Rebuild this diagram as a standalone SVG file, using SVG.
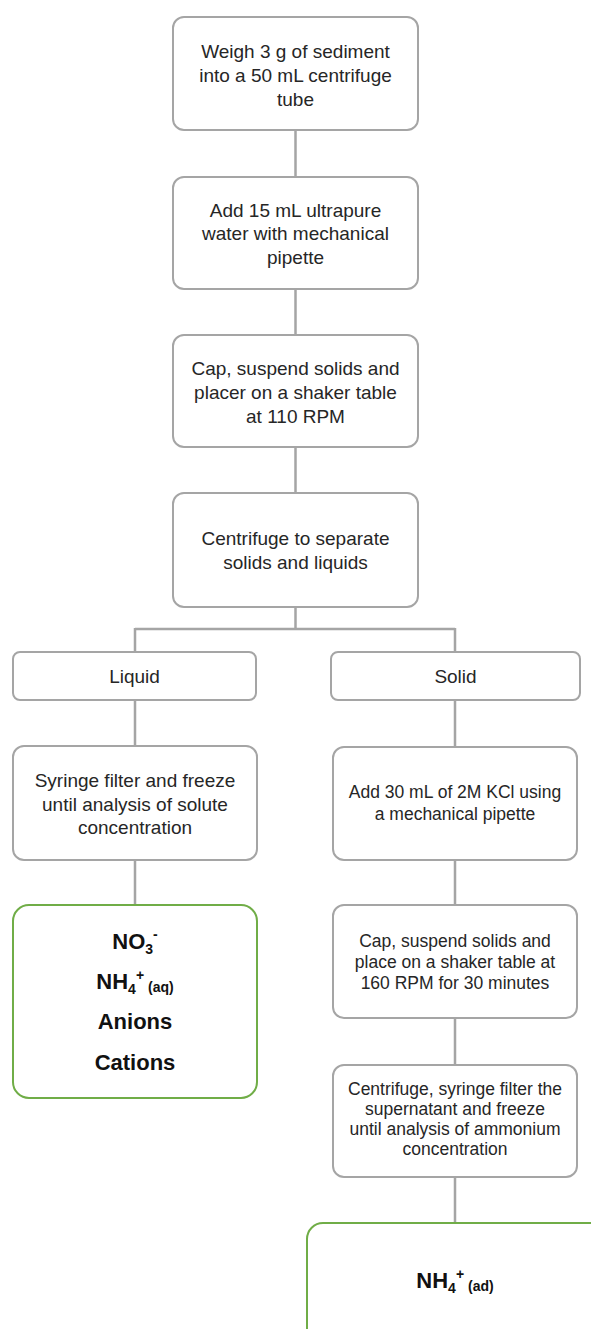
<svg xmlns="http://www.w3.org/2000/svg" width="591" height="1329" viewBox="0 0 591 1329">
  <style>
    .box { fill: #ffffff; stroke: #a5a5a5; stroke-width: 2; }
    .res { fill: #ffffff; stroke: #70ad47; stroke-width: 2; }
    .lbl { font-family: "Liberation Sans", Arial, sans-serif; font-size: 19px; fill: #262626; text-anchor: middle; }
    .sm { font-size: 17.5px; }
    .big { font-family: "Liberation Sans", Arial, sans-serif; font-size: 22px; font-weight: bold; fill: #111111; text-anchor: middle; }
    .link { fill: none; stroke: #a5a5a5; stroke-width: 2.5; }
  </style>

  <!-- connectors -->
  <g id="connectors">
    <path class="link" d="M295.5 130 V177 M295.5 289 V335 M295.5 447 V493 M295.5 607 V629"/>
    <path class="link" d="M135 629 H455 M135 628 V652 M455 628 V652"/>
    <path class="link" d="M135 700 V746 M135 860 V905"/>
    <path class="link" d="M455 700 V747 M455 860 V905 M455 1018 V1065 M455 1177 V1223"/>
  </g>

  <!-- main sequence -->
  <g id="weigh">
    <rect class="box" x="173" y="17" width="245" height="113" rx="11"/>
    <text class="lbl" x="295.5" y="58">Weigh 3 g of sediment</text>
    <text class="lbl" x="295.5" y="82">into a 50 mL centrifuge</text>
    <text class="lbl" x="295.5" y="106">tube</text>
  </g>
  <g id="add-water">
    <rect class="box" x="173" y="177" width="245" height="112" rx="11"/>
    <text class="lbl" x="295.5" y="217">Add 15 mL ultrapure</text>
    <text class="lbl" x="295.5" y="240">water with mechanical</text>
    <text class="lbl" x="295.5" y="264">pipette</text>
  </g>
  <g id="shake-110">
    <rect class="box" x="173" y="335" width="245" height="112" rx="11"/>
    <text class="lbl" x="295.5" y="375">Cap, suspend solids and</text>
    <text class="lbl" x="295.5" y="399">placer on a shaker table</text>
    <text class="lbl" x="295.5" y="423">at 110 RPM</text>
  </g>
  <g id="centrifuge">
    <rect class="box" x="173" y="493" width="245" height="114" rx="11"/>
    <text class="lbl" x="295.5" y="545">Centrifuge to separate</text>
    <text class="lbl" x="295.5" y="569">solids and liquids</text>
  </g>

  <!-- liquid branch -->
  <g id="liquid">
    <rect class="box" x="13" y="652" width="243" height="48" rx="7"/>
    <text class="lbl" x="134.5" y="683">Liquid</text>
  </g>
  <g id="filter-freeze">
    <rect class="box" x="13" y="746" width="244" height="114" rx="11"/>
    <text class="lbl" x="135" y="787">Syringe filter and freeze</text>
    <text class="lbl" x="135" y="811">until analysis of solute</text>
    <text class="lbl" x="135" y="834">concentration</text>
  </g>
  <g id="solutes">
    <rect class="res" x="13" y="905" width="244" height="193" rx="16"/>
    <text class="big" x="135" y="949">NO<tspan font-size="14" dy="5">3</tspan><tspan font-size="14" dy="-15">-</tspan></text>
    <text class="big" x="135" y="989">NH<tspan font-size="14" dy="5">4</tspan><tspan font-size="14" dy="-14">+</tspan><tspan font-size="14" dy="12"> (aq)</tspan></text>
    <text class="big" x="135" y="1029">Anions</text>
    <text class="big" x="135" y="1070">Cations</text>
  </g>

  <!-- solid branch -->
  <g id="solid">
    <rect class="box" x="331" y="652" width="249" height="48" rx="7"/>
    <text class="lbl" x="455.5" y="683">Solid</text>
  </g>
  <g id="add-kcl">
    <rect class="box" x="333" y="747" width="244" height="113" rx="11"/>
    <text class="lbl sm" x="455" y="798">Add 30 mL of 2M KCl using</text>
    <text class="lbl sm" x="455" y="820">a mechanical pipette</text>
  </g>
  <g id="shake-160">
    <rect class="box" x="333" y="905" width="244" height="113" rx="11"/>
    <text class="lbl sm" x="455" y="947">Cap, suspend solids and</text>
    <text class="lbl sm" x="455" y="968">place on a shaker table at</text>
    <text class="lbl sm" x="455" y="989">160 RPM for 30 minutes</text>
  </g>
  <g id="centrifuge-filter">
    <rect class="box" x="333" y="1065" width="244" height="112" rx="11"/>
    <text class="lbl sm" x="455" y="1095">Centrifuge, syringe filter the</text>
    <text class="lbl sm" x="455" y="1115">supernatant and freeze</text>
    <text class="lbl sm" x="455" y="1135">until analysis of ammonium</text>
    <text class="lbl sm" x="455" y="1155">concentration</text>
  </g>
  <g id="adsorbed">
    <rect class="res" x="307" y="1223" width="320" height="140" rx="16"/>
    <text class="big" x="455" y="1288">NH<tspan font-size="14" dy="5">4</tspan><tspan font-size="14" dy="-14">+</tspan><tspan font-size="14" dy="12"> (ad)</tspan></text>
  </g>
</svg>
